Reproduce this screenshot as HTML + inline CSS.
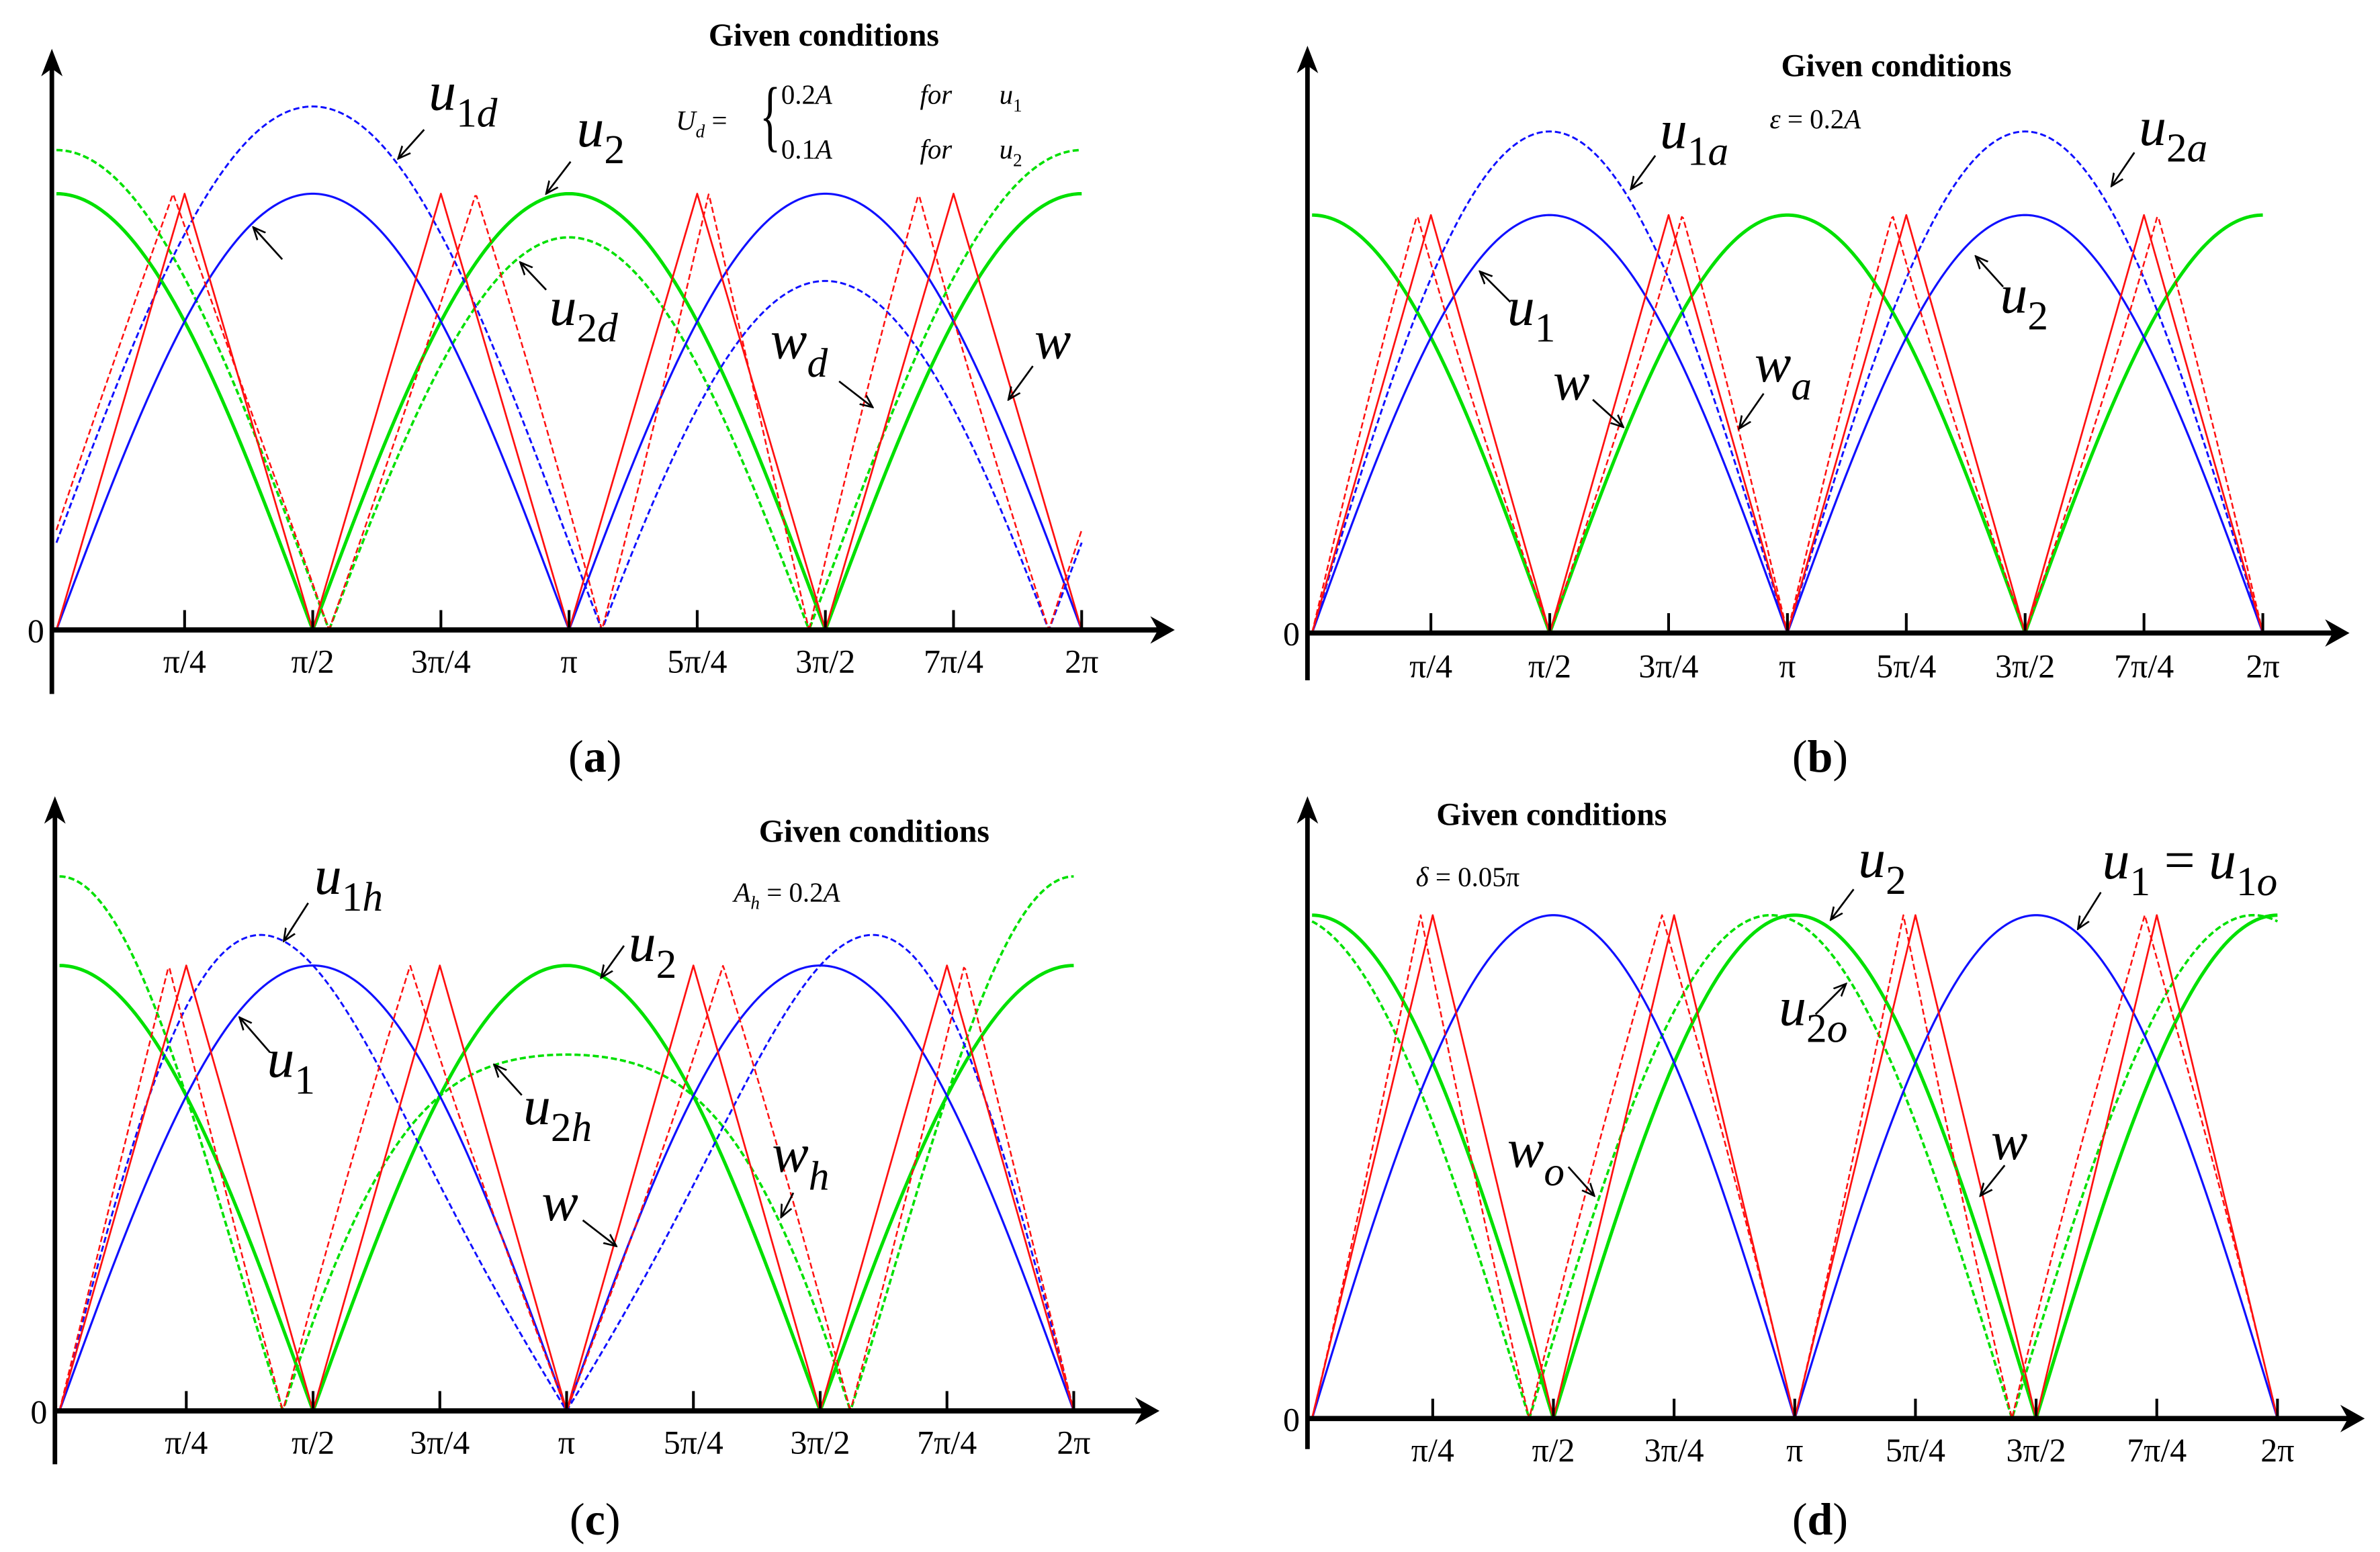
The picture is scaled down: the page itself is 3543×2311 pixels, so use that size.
<!DOCTYPE html>
<html><head><meta charset="utf-8"><title>Waveforms</title>
<style>
html,body{margin:0;padding:0;background:#fff;}
svg{display:block;}
svg text{font-family:"Liberation Serif","DejaVu Serif",serif;fill:#000;}
.lbl{font-style:italic;font-size:36px;}
.sub{font-size:27px;}
.tick{font-size:22px;}
.cond{font-weight:bold;font-size:21px;}
.eq{font-style:italic;font-size:18px;}
.cap{font-size:30px;}
</style></head>
<body>
<svg id="fig" width="3543" height="2311" viewBox="0 0 1560 1017.5" preserveAspectRatio="none" xmlns="http://www.w3.org/2000/svg" font-family="Liberation Serif, DejaVu Serif, serif">
<defs>
<marker id="ah" viewBox="0 0 10 10" refX="9" refY="5" markerWidth="9" markerHeight="9" orient="auto" markerUnits="userSpaceOnUse">
<path d="M0,1 L9,5 L0,9" fill="none" stroke="#000" stroke-width="1.3"/>
</marker>
</defs>
<g id="panels"></g>

<g>
<text class="cond" x="540" y="30" text-anchor="middle">Given conditions</text>
<text class="eq" x="443" y="85">U<tspan dy="5" font-size="12">d</tspan><tspan dy="-5" font-style="normal"> =</tspan></text>
<text x="498" y="93" font-size="52" transform="translate(498,88) scale(0.55,1) translate(-498,-88)">{</text>
<text class="eq" x="512" y="68"><tspan font-style="normal">0.2</tspan>A<tspan x="603">for</tspan><tspan x="655">u</tspan><tspan dy="5" font-size="12" font-style="normal">1</tspan></text>
<text class="eq" x="512" y="104"><tspan font-style="normal">0.1</tspan>A<tspan x="603">for</tspan><tspan x="655">u</tspan><tspan dy="5" font-size="12" font-style="normal">2</tspan></text>
<text class="lbl" x="281" y="72">u<tspan class="sub" dy="11" font-style="normal">1</tspan><tspan class="sub" font-style="italic">d</tspan></text>
<line x1="278" y1="85" x2="261" y2="104" stroke="#000" stroke-width="1.2" marker-end="url(#ah)"/>
<text class="lbl" x="378" y="96">u<tspan class="sub" dy="11" font-style="normal">2</tspan></text>
<line x1="374" y1="106" x2="358" y2="127" stroke="#000" stroke-width="1.2" marker-end="url(#ah)"/>
<line x1="185" y1="170" x2="166" y2="149" stroke="#000" stroke-width="1.2" marker-end="url(#ah)"/>
<text class="lbl" x="360" y="213">u<tspan class="sub" dy="11" font-style="normal">2</tspan><tspan class="sub" font-style="italic">d</tspan></text>
<line x1="358" y1="190" x2="341" y2="172" stroke="#000" stroke-width="1.2" marker-end="url(#ah)"/>
<text class="lbl" x="505" y="235">w<tspan class="sub" dy="12" font-style="italic">d</tspan></text>
<line x1="550" y1="250" x2="572" y2="267" stroke="#000" stroke-width="1.2" marker-end="url(#ah)"/>
<text class="lbl" x="678" y="235">w</text>
<line x1="677" y1="240" x2="661" y2="262" stroke="#000" stroke-width="1.2" marker-end="url(#ah)"/>
<text class="cap" x="390" y="506" text-anchor="middle">(<tspan font-weight="bold">a</tspan>)</text>
</g>

<g>
<text class="cond" x="1243" y="50" text-anchor="middle">Given conditions</text>
<text class="eq" x="1160" y="84">ε <tspan font-style="normal">= 0.2</tspan>A</text>
<text class="lbl" x="1088" y="97">u<tspan class="sub" dy="11" font-style="normal">1</tspan><tspan class="sub" font-style="italic">a</tspan></text>
<line x1="1085" y1="102" x2="1069" y2="124" stroke="#000" stroke-width="1.2" marker-end="url(#ah)"/>
<text class="lbl" x="1402" y="95">u<tspan class="sub" dy="11" font-style="normal">2</tspan><tspan class="sub" font-style="italic">a</tspan></text>
<line x1="1399" y1="100" x2="1384" y2="122" stroke="#000" stroke-width="1.2" marker-end="url(#ah)"/>
<text class="lbl" x="988" y="213">u<tspan class="sub" dy="11" font-style="normal">1</tspan></text>
<line x1="990" y1="198" x2="970" y2="178" stroke="#000" stroke-width="1.2" marker-end="url(#ah)"/>
<text class="lbl" x="1311" y="205">u<tspan class="sub" dy="11" font-style="normal">2</tspan></text>
<line x1="1313" y1="188" x2="1295" y2="168" stroke="#000" stroke-width="1.2" marker-end="url(#ah)"/>
<text class="lbl" x="1018" y="262">w</text>
<line x1="1044" y1="262" x2="1064" y2="280" stroke="#000" stroke-width="1.2" marker-end="url(#ah)"/>
<text class="lbl" x="1150" y="250">w<tspan class="sub" dy="12" font-style="italic">a</tspan></text>
<line x1="1156" y1="258" x2="1140" y2="281" stroke="#000" stroke-width="1.2" marker-end="url(#ah)"/>
<text class="cap" x="1193" y="506" text-anchor="middle">(<tspan font-weight="bold">b</tspan>)</text>
</g>

<g>
<text class="cond" x="573" y="552" text-anchor="middle">Given conditions</text>
<text class="eq" x="481" y="591">A<tspan dy="5" font-size="12">h</tspan><tspan dy="-5" font-style="normal"> = 0.2</tspan>A</text>
<text class="lbl" x="206" y="586">u<tspan class="sub" dy="11" font-style="normal">1</tspan><tspan class="sub" font-style="italic">h</tspan></text>
<line x1="202" y1="592" x2="186" y2="617" stroke="#000" stroke-width="1.2" marker-end="url(#ah)"/>
<text class="lbl" x="175" y="706">u<tspan class="sub" dy="11" font-style="normal">1</tspan></text>
<line x1="177" y1="690" x2="157" y2="667" stroke="#000" stroke-width="1.2" marker-end="url(#ah)"/>
<text class="lbl" x="412" y="630">u<tspan class="sub" dy="11" font-style="normal">2</tspan></text>
<line x1="409" y1="620" x2="394" y2="641" stroke="#000" stroke-width="1.2" marker-end="url(#ah)"/>
<text class="lbl" x="343" y="737">u<tspan class="sub" dy="11" font-style="normal">2</tspan><tspan class="sub" font-style="italic">h</tspan></text>
<line x1="342" y1="718" x2="324" y2="698" stroke="#000" stroke-width="1.2" marker-end="url(#ah)"/>
<text class="lbl" x="355" y="800">w</text>
<line x1="382" y1="800" x2="404" y2="817" stroke="#000" stroke-width="1.2" marker-end="url(#ah)"/>
<text class="lbl" x="506" y="768">w<tspan class="sub" dy="12" font-style="italic">h</tspan></text>
<line x1="520" y1="782" x2="512" y2="798" stroke="#000" stroke-width="1.2" marker-end="url(#ah)"/>
<text class="cap" x="390" y="1006" text-anchor="middle">(<tspan font-weight="bold">c</tspan>)</text>
</g>

<g>
<text class="cond" x="1017" y="541" text-anchor="middle">Given conditions</text>
<text class="eq" x="928" y="581">δ <tspan font-style="normal">= 0.05π</tspan></text>
<text class="lbl" x="1218" y="575">u<tspan class="sub" dy="11" font-style="normal">2</tspan></text>
<line x1="1215" y1="583" x2="1200" y2="603" stroke="#000" stroke-width="1.2" marker-end="url(#ah)"/>
<text class="lbl" x="1378" y="576">u<tspan class="sub" dy="11" font-style="normal">1</tspan><tspan dy="-11" font-style="normal"> = </tspan>u<tspan class="sub" dy="11" font-style="normal">1</tspan><tspan class="sub" font-style="italic">o</tspan></text>
<line x1="1377" y1="585" x2="1362" y2="609" stroke="#000" stroke-width="1.2" marker-end="url(#ah)"/>
<text class="lbl" x="1166" y="672">u<tspan class="sub" dy="11" font-style="normal">2</tspan><tspan class="sub" font-style="italic">o</tspan></text>
<line x1="1190" y1="665" x2="1210" y2="645" stroke="#000" stroke-width="1.2" marker-end="url(#ah)"/>
<text class="lbl" x="988" y="765">w<tspan class="sub" dy="12" font-style="italic">o</tspan></text>
<line x1="1028" y1="765" x2="1045" y2="784" stroke="#000" stroke-width="1.2" marker-end="url(#ah)"/>
<text class="lbl" x="1305" y="760">w</text>
<line x1="1314" y1="764" x2="1298" y2="784" stroke="#000" stroke-width="1.2" marker-end="url(#ah)"/>
<text class="cap" x="1193" y="1006" text-anchor="middle">(<tspan font-weight="bold">d</tspan>)</text>
</g>
</svg>
<script>
// Tick labels (multiples of pi/4)
const tickLabels = ["π/4","π/2","3π/4","π","5π/4","3π/2","7π/4","2π"];
const tickValues = [1,2,3,4,5,6,7,8]; // in units of pi/4

// Curve parameters, in units of A: [amplitude, dcOffset, secondHarmonic, phaseInPi]
const u1Base  = [1.0, 0.0, 0.0, 0.0];
const u2Base  = [1.0, 0.0, 0.0, 0.0];
const u1dParams = [1.0, 0.2, 0.0, 0.0];
const u2dParams = [1.0, 0.1, 0.0, 0.0];
const u1aParams = [1.2, 0.0, 0.0, 0.0];
const u2aParams = [1.0, 0.0, 0.0, 0.0];
const u1hParams = [1.0, 0.0, 0.2, 0.0];
const u2hParams = [1.0, 0.0, 0.2, 0.0];
const u1oParams = [1.0, 0.0, 0.0, 0.0];
const u2oParams = [1.0, 0.0, 0.0, 0.05];

const panels = [
 {id:"a", x0:37, y0:413, step:84.0, A:286, yTop:32, yBot:455, xEnd:770, zeroX:18, tickY:441,
  u1:u1Base,u2:u2Base,u1m:u1dParams,u2m:u2dParams, showU1m:true, showU2m:true},
 {id:"b", x0:860, y0:415, step:77.9, A:274, yTop:30, yBot:446, xEnd:1540, zeroX:841, tickY:444,
  u1:u1Base,u2:u2Base,u1m:u1aParams,u2m:u2aParams, showU1m:true, showU2m:false},
 {id:"c", x0:39, y0:925, step:83.1, A:292, yTop:522, yBot:960, xEnd:760, zeroX:20, tickY:953,
  u1:u1Base,u2:u2Base,u1m:u1hParams,u2m:u2hParams, showU1m:true, showU2m:true},
 {id:"d", x0:860, y0:930, step:79.1, A:330, yTop:522, yBot:950, xEnd:1550, zeroX:841, tickY:958,
  u1:u1Base,u2:u2Base,u1m:u1oParams,u2m:u2oParams, showU1m:false, showU2m:true}
];

const NS = "http://www.w3.org/2000/svg";
const root = document.getElementById("panels");
function mk(tag, attrs, parent){
  const e = document.createElementNS(NS, tag);
  for (const k in attrs) e.setAttribute(k, attrs[k]);
  parent.appendChild(e);
  return e;
}
function sinU(p, x){ return Math.abs(p[0]*Math.sin(x + p[3]*Math.PI) + p[1] + p[2]*Math.sin(2*x)); }
function cosU(p, x){ return Math.abs(p[0]*Math.cos(x + p[3]*Math.PI) + p[1] + p[2]*Math.cos(2*x)); }
function wOf(a, b){ const t = Math.atan2(a, b); return (4/Math.PI)*Math.min(t, Math.PI/2 - t); }

const N = 720;
panels.forEach(P => {
  const g = mk("g", {}, root);
  
  
  const xs = v => P.x0 + v/(Math.PI/4)*P.step;
  const ys = v => P.y0 - v*P.A;
  function curve(fn, color, width, dash, name){
    let d = "";
    for (let i=0;i<=N;i++){
      const x = i/N*2*Math.PI;
      d += (i? "L":"M") + xs(x).toFixed(2) + "," + ys(fn(x)).toFixed(2);
    }
    const p = mk("path", {d:d, fill:"none", stroke:color, "stroke-width":width, "stroke-linejoin":"round"}, g);
    if (dash) p.setAttribute("stroke-dasharray", dash);
    
    
  }
  const G = "#00e000", B = "#1010ff", R = "#ff1010";
  if (P.showU2m) curve(x=>cosU(P.u2m,x), G, 1.6, "4,2", "u2-modified");
  curve(x=>cosU(P.u2,x), G, 2.2, null, "u2");
  if (P.showU1m) curve(x=>sinU(P.u1m,x), B, 1.3, "4,2", "u1-modified");
  curve(x=>sinU(P.u1,x), B, 1.4, null, "u1");
  const u1mFn = x=> sinU(P.showU1m?P.u1m:P.u1, x);
  const u2mFn = x=> cosU(P.showU2m?P.u2m:P.u2, x);
  curve(x=>wOf(u1mFn(x), u2mFn(x)), R, 1.1, "4,2", "w-modified");
  curve(x=>wOf(sinU(P.u1,x), cosU(P.u2,x)), R, 1.2, null, "w");

  const ax = mk("line", {x1:P.x0-3, y1:P.y0, x2:P.xEnd-10, y2:P.y0, stroke:"#000", "stroke-width":3.4}, g);
  
  
  const axh = mk("path", {d:`M${P.xEnd},${P.y0} L${P.xEnd-16},${P.y0-9} L${P.xEnd-11},${P.y0} L${P.xEnd-16},${P.y0+9} Z`, fill:"#000"}, g);
  
  
  const yx = P.x0-3;
  const ay = mk("line", {x1:yx, y1:P.yBot, x2:yx, y2:P.yTop+10, stroke:"#000", "stroke-width":3}, g);
  
  
  const ayh = mk("path", {d:`M${yx},${P.yTop} L${yx-7},${P.yTop+18} L${yx},${P.yTop+13} L${yx+7},${P.yTop+18} Z`, fill:"#000"}, g);
  
  
  const z = mk("text", {x:P.zeroX, y:P.y0+8, "font-size":22, "font-family":"Liberation Serif, DejaVu Serif, serif"}, g);
  z.textContent = "0";
  
  
  tickValues.forEach((tv, i) => {
    const tx = xs(tv*Math.PI/4);
    const t = mk("line", {x1:tx, y1:P.y0, x2:tx, y2:P.y0-13, stroke:"#000", "stroke-width":1.8}, g);
    
    
    const l = mk("text", {x:tx, y:P.tickY, "text-anchor":"middle", class:"tick", "font-family":"Liberation Serif, DejaVu Serif, serif"}, g);
    l.textContent = tickLabels[i];
    
    
  });
});
</script>
</body></html>
